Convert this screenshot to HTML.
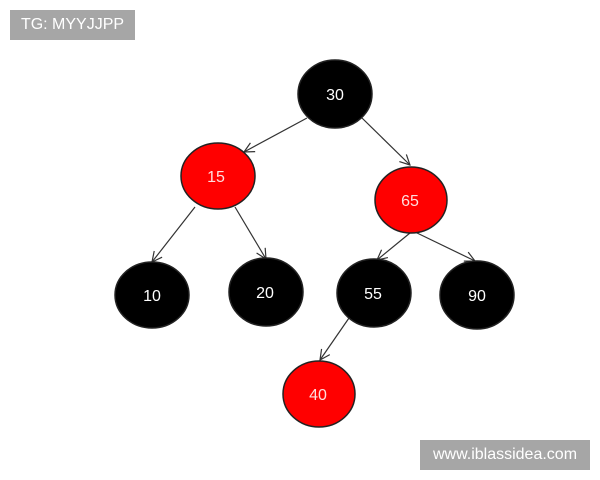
<!DOCTYPE html>
<html><head><style>
body{margin:0;background:#fff;width:600px;height:480px;overflow:hidden;position:relative;font-family:"Liberation Sans",sans-serif}
.tag{position:absolute;background:#a6a6a6;color:#fff;font-size:16px;display:flex;align-items:center;justify-content:center}
</style></head><body>
<svg width="600" height="480" style="position:absolute;left:0;top:0">
<defs><marker id="a" markerWidth="12" markerHeight="12" refX="11" refY="6" orient="auto" markerUnits="userSpaceOnUse"><path d="M1,1 L11,6 L1,11" fill="none" stroke="#333" stroke-width="1.2"/></marker></defs>
<g stroke="#333" stroke-width="1.2" marker-end="url(#a)">
<line x1="307" y1="118" x2="244" y2="152"/>
<line x1="362" y1="118" x2="410" y2="165"/>
<line x1="195" y1="207" x2="152" y2="262"/>
<line x1="235" y1="207" x2="266" y2="259"/>
<line x1="410" y1="233" x2="377" y2="260"/>
<line x1="415" y1="232" x2="475" y2="261"/>
<line x1="349" y1="318" x2="320" y2="360"/>
</g>
<g stroke="#222" stroke-width="1.5">
<ellipse cx="335" cy="94" rx="37" ry="34" fill="#000"/>
<ellipse cx="218" cy="176" rx="37" ry="33" fill="#f00"/>
<ellipse cx="411" cy="200" rx="36" ry="33" fill="#f00"/>
<ellipse cx="152" cy="295" rx="37" ry="33" fill="#000"/>
<ellipse cx="266" cy="292" rx="37" ry="34" fill="#000"/>
<ellipse cx="374" cy="293" rx="37" ry="34" fill="#000"/>
<ellipse cx="477" cy="295" rx="37" ry="34" fill="#000"/>
<ellipse cx="319" cy="394" rx="36" ry="33" fill="#f00"/>
</g>
<g font-family="Liberation Sans, sans-serif" font-size="16" text-anchor="middle" fill="#fff">
<text x="335" y="100">30</text>
<text x="216" y="182" fill="#fdd">15</text>
<text x="410" y="206" fill="#fdd">65</text>
<text x="152" y="301">10</text>
<text x="265" y="298">20</text>
<text x="373" y="299">55</text>
<text x="477" y="301">90</text>
<text x="318" y="400" fill="#fdd">40</text>
</g>
</svg>
<div class="tag" style="left:10px;top:10px;width:125px;height:30px">TG: MYYJJPP</div>
<div class="tag" style="left:420px;top:440px;width:170px;height:30px">www.iblassidea.com</div>
</body></html>
